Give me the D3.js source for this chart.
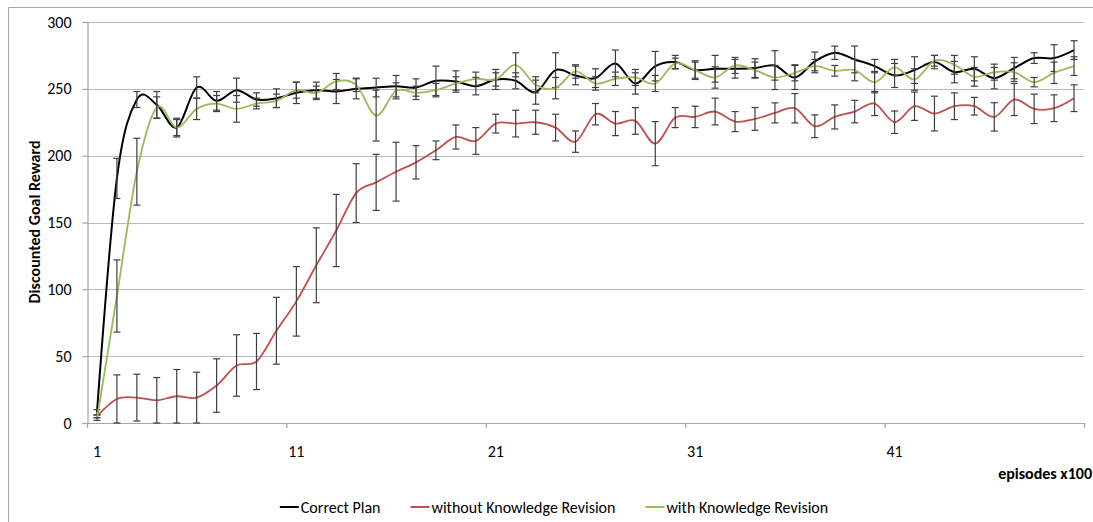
<!DOCTYPE html>
<html>
<head>
<meta charset="utf-8">
<script src="https://cdn.jsdelivr.net/npm/d3@7"></script>
<style>
  body { margin: 0; background: #fff; }
  text { font-family: Carlito, Lato, "Liberation Sans", sans-serif; fill: #000; }
</style>
</head>
<body>
<svg id="chart" width="1093" height="522"></svg>
<script>
const width = 1093, height = 522;
const margin = { left: 87, right: 1084, top: 22, bottom: 423 };

const episodes = d3.range(1, 51);
const xTicks = [1, 11, 21, 31, 41];
const yTicks = [0, 50, 100, 150, 200, 250, 300];
const seriesNames = ["Correct Plan", "without Knowledge Revision", "with Knowledge Revision"];
const seriesColors = ["#000000", "#c0504d", "#9bbb59"];

const correctPlan = [8,183,242,238,221,251,241,249,242,243,247,249,248,250,251,252,251,256,255.5,252,
  257,256,247.5,264,260,258,269,254,267,270,264,265,265,265.5,267.5,258.5,270.5,277,272,267,
  260,264,270,262.5,265,258,265.5,273,273,279];
const correctPlanErr = [2,15,6,10,7,8,7,9,5,7,8,6,9,7.5,7,8,6.5,11,8,6.5,
  7.5,6,9,13,7,7,10,8,11,5,7,10,7,7,11,9,7,5,10,5,
  9,10,5,8,9,8,8,4,10,7];

const withoutRevision = [5,18,19,17,20,19,28,43,46,69,91,118,144,172,180,188,195,204,214,211,
  224,224,225,221,210.5,231,224,226,209,228.5,229,233,225.5,227.5,232,235.5,222,229,233,239,
  225,237,231.5,237,237,229,242,235,235.5,243];
const withoutRevisionErr = [1,18,17.5,17,20,19,20,23,21,25,26,28,27,22,21,22,12.5,7,9,10,
  7,10,9,10,8,8,9,10,16.5,7.5,8,10,7.5,8.5,7.5,11,8.5,9,8.4,9,
  8.4,10.6,13,10,6.6,10.6,12,11,10,10];

const withRevision = [3,95,188,236,221,235,239,235,239,241,249,247,255.5,253,230,248.5,247,249,254,257.5,
  257,268,253,250.5,263,254,257.5,258.5,254,269,264,258.5,267.5,264,258.5,262,267,263.5,264,255,
  266,257,271,268,259,262.5,262.5,255,262,267];
const withRevisionErr = [1,27,25,8,6,8,6,10,4,5,6,5,6,5,19,6,5,5,5,5,
  5,9,6,8,5,5,5,6,6,4,6,8,6,6,9,6,5,4,8,8,
  6,8,4,7,7,6,7,3.5,8,7];

const series = [
  { name: seriesNames[0], color: seriesColors[0], values: correctPlan, err: correctPlanErr, width: 2 },
  { name: seriesNames[1], color: seriesColors[1], values: withoutRevision, err: withoutRevisionErr, width: 1.8 },
  { name: seriesNames[2], color: seriesColors[2], values: withRevision, err: withRevisionErr, width: 1.8 }
];

const svg = d3.select("#chart");

// outer chart border (cut off at right and bottom)
svg.append("path")
  .attr("d", `M8.5,${height} V7.5 H${width}`)
  .attr("fill", "none").attr("stroke", "#a6a6a6");

const x = d3.scalePoint().domain(episodes).range([margin.left, margin.right]).padding(0.5);
const y = d3.scaleLinear().domain([0, 300]).range([margin.bottom, margin.top]);
const step = x.step();

// gridlines
svg.append("g").selectAll("line")
  .data(yTicks.filter(d => d > 0))
  .enter().append("line")
  .attr("x1", margin.left).attr("x2", margin.right)
  .attr("y1", d => Math.round(y(d)) + 0.5).attr("y2", d => Math.round(y(d)) + 0.5)
  .attr("stroke", "#b9b9b9").attr("stroke-width", 1.2);

// y axis
const yAxis = svg.append("g")
  .attr("transform", `translate(${margin.left + 0.5},0)`)
  .call(d3.axisLeft(y).tickValues(yTicks).tickSize(5).tickPadding(11).tickSizeOuter(0));
yAxis.select(".domain").attr("stroke", "#a6a6a6").attr("stroke-width", 1.2);
yAxis.selectAll(".tick line").attr("stroke", "#a6a6a6").attr("stroke-width", 1.2);
yAxis.selectAll(".tick text").style("font-size", "16px").attr("fill", "#000");

// x axis
const xg = svg.append("g");
xg.append("line")
  .attr("x1", margin.left - 5).attr("x2", margin.right)
  .attr("y1", margin.bottom + 0.5).attr("y2", margin.bottom + 0.5)
  .attr("stroke", "#a6a6a6").attr("stroke-width", 1.2);
xg.selectAll(".xtick")
  .data(d3.range(0, 51, 10))
  .enter().append("line")
  .attr("x1", d => margin.left + d * step + 0.5).attr("x2", d => margin.left + d * step + 0.5)
  .attr("y1", margin.bottom).attr("y2", margin.bottom + 5)
  .attr("stroke", "#a6a6a6").attr("stroke-width", 1.2);
xg.selectAll(".xlabel")
  .data(xTicks)
  .enter().append("text")
  .attr("x", d => x(d)).attr("y", 457)
  .attr("text-anchor", "middle")
  .style("font-size", "16px")
  .text(d => d);

// axis titles
svg.append("text")
  .attr("transform", "translate(40,222) rotate(-90)")
  .attr("text-anchor", "middle")
  .style("font-size", "16px").style("font-weight", "bold")
  .text("Discounted Goal Reward");
svg.append("text")
  .attr("x", 1092).attr("y", 479)
  .attr("text-anchor", "end")
  .style("font-size", "16px").style("font-weight", "bold")
  .text("episodes x100");

// series with error bars
const line = d3.line()
  .x((d, i) => x(episodes[i]))
  .y(d => y(d))
  .curve(d3.curveCardinal.tension(0));

series.forEach(s => {
  const g = svg.append("g");
  g.append("path")
    .datum(s.values)
    .attr("fill", "none")
    .attr("stroke", s.color)
    .attr("stroke-width", s.width)
    .attr("d", line);

  const bars = g.selectAll(".err")
    .data(s.values.map((v, i) => ({ ep: episodes[i], lo: v - s.err[i], hi: v + s.err[i] })))
    .enter().append("g")
    .attr("stroke", "#3f3f3f").attr("stroke-width", 1.2);
  bars.append("line")
    .attr("x1", d => x(d.ep)).attr("x2", d => x(d.ep))
    .attr("y1", d => y(Math.max(0, d.lo))).attr("y2", d => y(d.hi));
  bars.append("line")
    .attr("x1", d => x(d.ep) - 3.5).attr("x2", d => x(d.ep) + 3.5)
    .attr("y1", d => y(d.hi)).attr("y2", d => y(d.hi));
  bars.append("line")
    .attr("x1", d => x(d.ep) - 3.5).attr("x2", d => x(d.ep) + 3.5)
    .attr("y1", d => y(Math.max(0, d.lo))).attr("y2", d => y(Math.max(0, d.lo)));
});

// legend, centred under the plot
const legend = svg.append("g").attr("transform", "translate(0,507)");
let lx = 0;
series.forEach(s => {
  const it = legend.append("g").attr("transform", `translate(${lx},0)`);
  it.append("line").attr("x1", 0).attr("x2", 19).attr("y1", 0).attr("y2", 0)
    .attr("stroke", s.color).attr("stroke-width", 2);
  const t = it.append("text").attr("x", 21).attr("y", 5.5)
    .style("font-size", "16px").text(s.name);
  lx += 21 + t.node().getComputedTextLength() + 30;
});
const legendWidth = lx - 30;
legend.attr("transform", `translate(${554 - legendWidth / 2},507)`);
</script>
</body>
</html>
